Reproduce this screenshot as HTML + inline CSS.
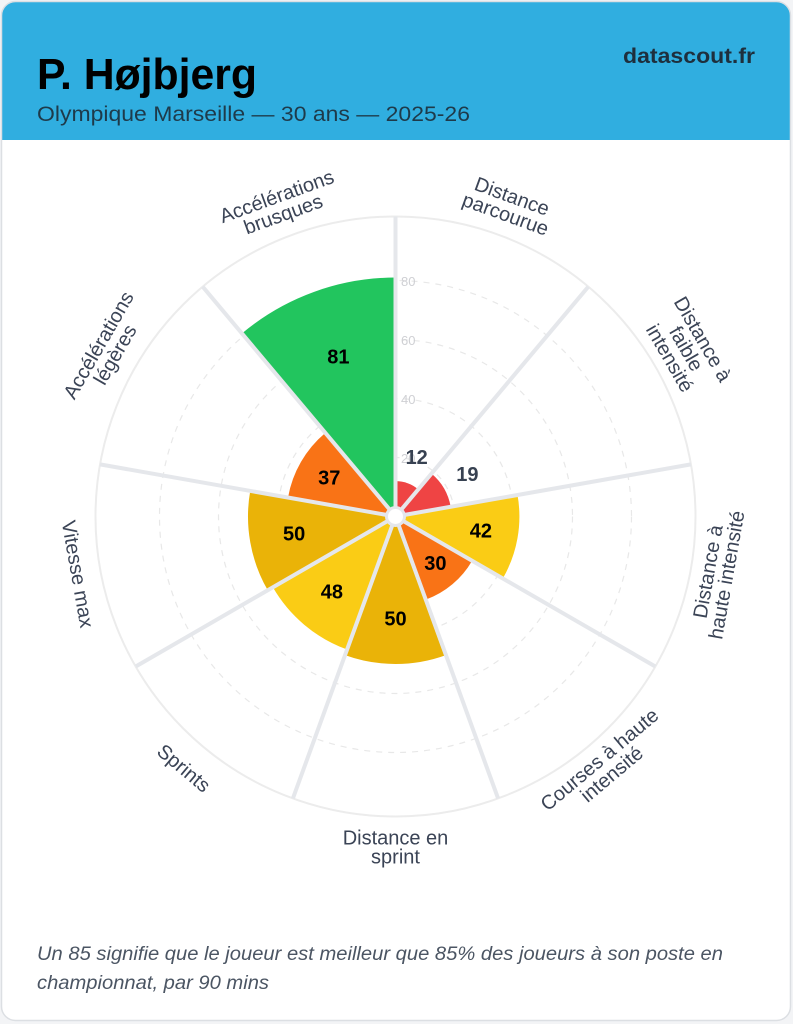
<!DOCTYPE html>
<html><head><meta charset="utf-8"><style>
html,body{margin:0;padding:0;background:#fff;}
svg{display:block;font-family:"Liberation Sans",Arial,sans-serif;}
</style></head><body>
<svg width="793" height="1024" viewBox="0 0 793 1024" xmlns="http://www.w3.org/2000/svg">
<defs><clipPath id="card"><rect x="1.5" y="1.5" width="789" height="1019" rx="14"/></clipPath></defs>
<rect x="0" y="0" width="793" height="1024" fill="#f3f4f6"/>
<rect x="1.5" y="1.5" width="789" height="1019" rx="14" fill="#fff"/>
<rect x="0" y="0" width="793" height="140" fill="#30aee0" clip-path="url(#card)"/>
<rect x="1.5" y="1.5" width="789" height="1019" rx="14" fill="none" stroke="#dcdfe3" stroke-width="1.5"/>
<text x="37" y="89" font-size="44" font-weight="bold" fill="#000" textLength="220" lengthAdjust="spacingAndGlyphs">P. Højbjerg</text>
<text x="37" y="121" font-size="21" fill="#1e3a4a" textLength="433" lengthAdjust="spacingAndGlyphs">Olympique Marseille — 30 ans — 2025-26</text>
<text x="623" y="63" font-size="21" font-weight="bold" fill="#1e2f3d" textLength="132" lengthAdjust="spacingAndGlyphs">datascout.fr</text>

<circle cx="395.5" cy="516.5" r="300" fill="none" stroke="#ececec" stroke-width="2"/>
<g fill="none" stroke="#e8e8e8" stroke-width="1.2" stroke-dasharray="6 6">
<circle cx="395.5" cy="516.5" r="59"/><circle cx="395.5" cy="516.5" r="118"/>
<circle cx="395.5" cy="516.5" r="177"/><circle cx="395.5" cy="516.5" r="236"/>
</g>
<g font-size="13" fill="#cfd0d4">
<text x="401" y="286">80</text><text x="401" y="345">60</text>
<text x="401" y="404">40</text><text x="401" y="463">20</text>
</g>

<path d="M395.5 516.5 L395.5 481.1 A35.4 35.4 0 0 1 418.26 489.38Z" fill="#ef4444"/>
<path d="M395.5 516.5 L431.53 473.57 A56.05 56.05 0 0 1 450.70 506.77Z" fill="#ef4444"/>
<path d="M395.5 516.5 L517.52 494.99 A123.9 123.9 0 0 1 502.80 578.45Z" fill="#facc15"/>
<path d="M395.5 516.5 L472.14 560.75 A88.5 88.5 0 0 1 425.77 599.66Z" fill="#f97316"/>
<path d="M395.5 516.5 L445.95 655.11 A147.5 147.5 0 0 1 345.05 655.11Z" fill="#eab308"/>
<path d="M395.5 516.5 L347.07 649.56 A141.6 141.6 0 0 1 272.87 587.3Z" fill="#facc15"/>
<path d="M395.5 516.5 L267.76 590.25 A147.5 147.5 0 0 1 250.24 490.89Z" fill="#eab308"/>
<path d="M395.5 516.5 L288.01 497.55 A109.15 109.15 0 0 1 325.34 432.89Z" fill="#f97316"/>
<path d="M395.5 516.5 L241.9 333.46 A238.95 238.95 0 0 1 395.5 277.55Z" fill="#22c55e"/>

<g stroke="#e5e7eb" stroke-width="4">
<line x1="395.5" y1="516.5" x2="395.5" y2="216.5"/>
<line x1="395.5" y1="516.5" x2="588.3" y2="286.7"/>
<line x1="395.5" y1="516.5" x2="690.9" y2="464.4"/>
<line x1="395.5" y1="516.5" x2="655.3" y2="666.5"/>
<line x1="395.5" y1="516.5" x2="498.1" y2="798.4"/>
<line x1="395.5" y1="516.5" x2="292.9" y2="798.4"/>
<line x1="395.5" y1="516.5" x2="135.7" y2="666.5"/>
<line x1="395.5" y1="516.5" x2="100.1" y2="464.4"/>
<line x1="395.5" y1="516.5" x2="202.7" y2="286.7"/>
</g>
<circle cx="395.5" cy="516.5" r="9" fill="#fff" stroke="#e5e7eb" stroke-width="3"/>

<g font-size="20" font-weight="bold" text-anchor="middle" dominant-baseline="central">
<text x="416.7" y="458.2" fill="#374151">12</text>
<text x="467.4" y="475" fill="#374151">19</text>
<text x="480.9" y="531.6" fill="#000">42</text>
<text x="435.4" y="564" fill="#000">30</text>
<text x="395.5" y="619.5" fill="#000">50</text>
<text x="331.9" y="592.3" fill="#000">48</text>
<text x="294.1" y="534.4" fill="#000">50</text>
<text x="329.3" y="478.3" fill="#000">37</text>
<text x="338.4" y="357.6" fill="#000">81</text>
</g>

<g font-size="20" fill="#3b4456" text-anchor="middle">
<g transform="translate(508.7,205.5) rotate(20)"><text y="-3">Distance</text><text y="16">parcourue</text></g>
<g transform="translate(685.6,349) rotate(60)"><text y="-13">Distance à</text><text y="6">faible</text><text y="25">intensité</text></g>
<g transform="translate(717.5,573.3) rotate(-80)"><text y="-3">Distance à</text><text y="16">haute intensité</text></g>
<g transform="translate(605.7,767) rotate(-40)"><text y="-3">Courses à haute</text><text y="16">intensité</text></g>
<g transform="translate(395.5,847.5)"><text y="-3">Distance en</text><text y="16">sprint</text></g>
<g transform="translate(184,768) rotate(40)"><text y="7">Sprints</text></g>
<g transform="translate(78,574) rotate(80)"><text y="7">Vitesse max</text></g>
<g transform="translate(107,350) rotate(-60)"><text y="-3">Accélérations</text><text y="16">légères</text></g>
<g transform="translate(280,205.5) rotate(-20)"><text y="-3">Accélérations</text><text y="16">brusques</text></g>
</g>

<g font-size="19" font-style="italic" fill="#4b5563">
<text x="37" y="960" textLength="686" lengthAdjust="spacingAndGlyphs">Un 85 signifie que le joueur est meilleur que 85% des joueurs à son poste en</text>
<text x="37" y="989" textLength="232" lengthAdjust="spacingAndGlyphs">championnat, par 90 mins</text>
</g>
</svg>
</body></html>
